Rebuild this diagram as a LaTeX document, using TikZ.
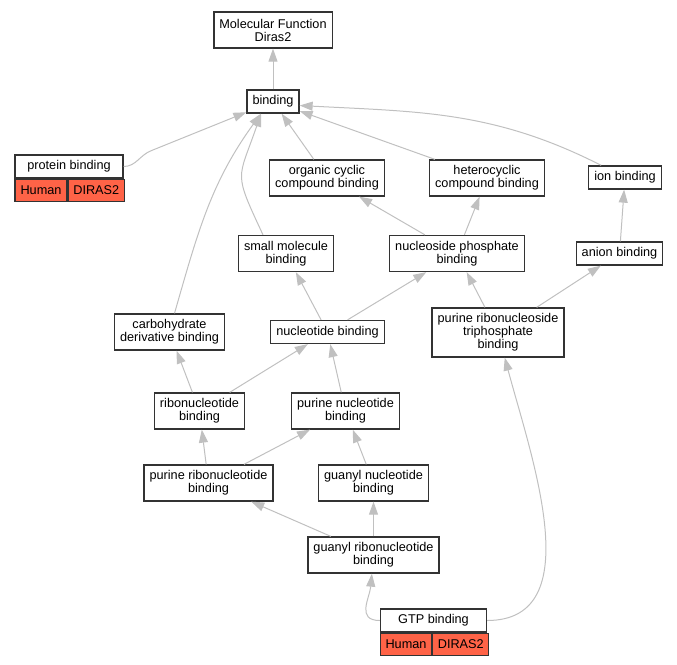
\documentclass[tikz,border=0pt]{standalone}
\usepackage{fontspec}
\setmainfont{Liberation Sans}
\usetikzlibrary{arrows.meta}
\definecolor{edgegray}{RGB}{192,192,192}
\definecolor{boxline}{RGB}{51,51,51}
\definecolor{tomato}{RGB}{255,99,71}

\begin{document}
\begin{tikzpicture}[->,>={Triangle[length=13pt,width=9pt]},x=1pt,y=1pt,
  link/.style={draw=edgegray,line width=1pt},every edge/.style={link}]
  \tikzstyle{term}=[draw=boxline,line width=1.3pt,fill=white,align=center,
    font=\fontsize{12.7}{13}\selectfont,inner xsep=5.5pt,inner ysep=2pt,
    minimum height=23pt]
  \tikzstyle{two}=[minimum height=36pt]
  \tikzstyle{three}=[minimum height=49pt]
  \tikzstyle{cell}=[term,fill=tomato,minimum height=22pt,inner xsep=2pt,
    anchor=north west]

  \useasboundingbox (0,0) rectangle (677,-664);

  \node[term,two]   (mf)    at (273,-30)     {Molecular Function\\Diras2};
  \node[term]       (bind)  at (273,-101.5)  {binding};
  \node[term,minimum width=108pt] (pb) at (69,-166.5) {protein binding};
  \node[cell,minimum width=52pt]  (pbh) at (pb.south west) {Human};
  \node[cell,minimum width=56pt]  (pbd) at (pbh.north east) {DIRAS2};
  \node[term,two]   (org)   at (327,-178)    {organic cyclic\\compound binding};
  \node[term,two]   (het)   at (487,-178)    {heterocyclic\\compound binding};
  \node[term]       (ion)   at (625,-177.5)  {ion binding};
  \node[term,two]   (sm)    at (286,-253.5)  {small molecule\\binding};
  \node[term,two]   (nps)   at (457,-253.5)  {nucleoside phosphate\\binding};
  \node[term]       (anion) at (619.5,-253.5) {anion binding};
  \node[term,two]   (carb)  at (169.5,-332)  {carbohydrate\\derivative binding};
  \node[term]       (nucl)  at (327.5,-332)  {nucleotide binding};
  \node[term,three] (prtb)  at (498,-332.5)  {purine ribonucleoside\\triphosphate\\binding};
  \node[term,two]   (ribo)  at (199.5,-411)  {ribonucleotide\\binding};
  \node[term,two]   (pnuc)  at (345.5,-411)  {purine nucleotide\\binding};
  \node[term,two]   (prib)  at (208.5,-483)  {purine ribonucleotide\\binding};
  \node[term,two]   (gnuc)  at (373.5,-483)  {guanyl nucleotide\\binding};
  \node[term,two]   (grib)  at (373.5,-555)  {guanyl ribonucleotide\\binding};
  \node[term,minimum width=106pt] (gtp) at (433.5,-620.5) {GTP binding};
  \node[cell,minimum width=51pt]  (gtph) at (gtp.south west) {Human};
  \node[cell,minimum width=56pt]  (gtpd) at (gtph.north east) {DIRAS2};

  \draw[link] (pb.east) to[out=0,in=200] ++(28,16) -- (bind);

  \path (bind) edge (mf)
        (org)  edge (bind)
        (het)  edge (bind)
        (ion)  edge [out=153,in=-3] ([yshift=-4pt]bind.east)
        ([xshift=-23pt]sm.north) edge [out=115,in=251,looseness=1.5] ([xshift=-12pt]bind.south)
        ([xshift=5pt]carb.north) edge [out=74,in=234] ([xshift=-12pt]bind.south)
        (nps)  edge (org)
        (nps)  edge (het)
        (anion) edge (ion)
        (nucl) edge (sm)
        (nucl) edge (nps)
        (prtb) edge (nps)
        (prtb) edge (anion)
        (ribo) edge (carb)
        (ribo) edge (nucl)
        (pnuc) edge (nucl)
        (prib) edge (ribo)
        (prib) edge (pnuc)
        (gnuc) edge (pnuc)
        (grib) edge (prib)
        (grib) edge (gnuc)
        (gtp)  edge [out=180,in=265,looseness=1.3] (grib)
        (gtp)  edge [out=0,in=285] (prtb)
        ;
\end{tikzpicture}
\end{document}
